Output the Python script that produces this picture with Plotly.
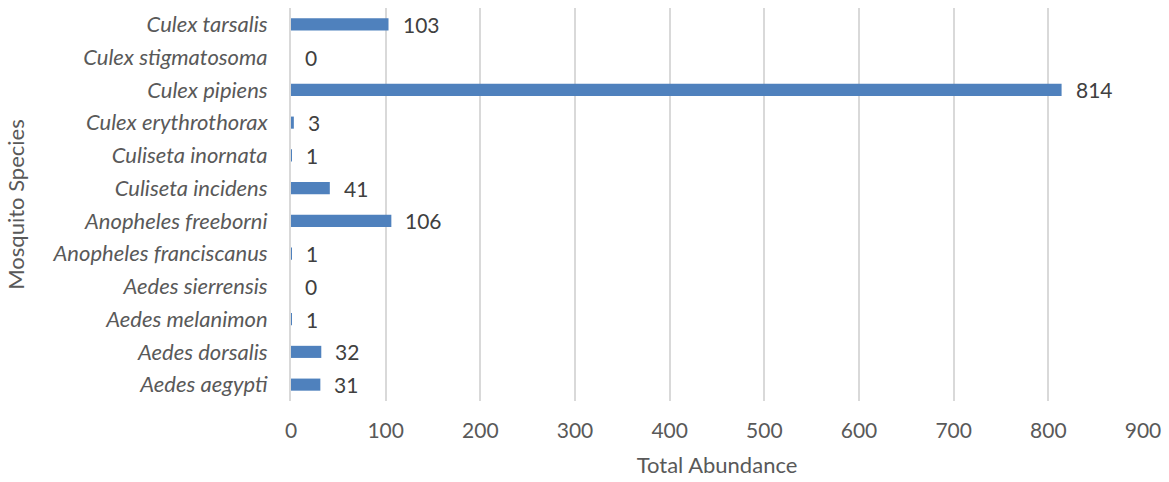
import plotly.graph_objects as go

species = ["Aedes aegypti", "Aedes dorsalis", "Aedes melanimon", "Aedes sierrensis",
           "Anopheles franciscanus", "Anopheles freeborni", "Culiseta incidens",
           "Culiseta inornata", "Culex erythrothorax", "Culex pipiens",
           "Culex stigmatosoma", "Culex tarsalis"]
abundance = [31, 32, 1, 0, 1, 106, 41, 1, 3, 814, 0, 103]
x_ticks = [0, 100, 200, 300, 400, 500, 600, 700, 800, 900]

FONT = "Lato"
TXT = "#595959"

fig = go.Figure(go.Bar(
    x=abundance, y=species, orientation="h",
    marker=dict(color="#4f81bd", line=dict(width=0)),
    width=0.37,
))

for s, v in zip(species, abundance):
    fig.add_annotation(x=v, y=s, text=str(v), showarrow=False, xanchor="left",
                       xshift=12, font=dict(family=FONT, size=21, color="#404040"))

fig.update_layout(
    width=1169, height=482,
    margin=dict(l=291, r=24, t=8, b=79),
    plot_bgcolor="white", paper_bgcolor="white",
    showlegend=False,
    font=dict(family=FONT, color=TXT),
    xaxis=dict(range=[0, 900], tickvals=x_ticks, showgrid=True, gridcolor="#d9d9d9",
               gridwidth=2, zeroline=False, showline=False,
               tickfont=dict(size=21, color=TXT), ticks="outside", ticklen=11,
               tickcolor="rgba(0,0,0,0)",
               title=dict(text="Total Abundance", font=dict(size=22, color=TXT), standoff=16)),
    yaxis=dict(categoryorder="array", categoryarray=species, showgrid=False,
               showline=True, linecolor="#d9d9d9", linewidth=2,
               tickfont=dict(size=22, color=TXT), ticks="outside", ticklen=17,
               tickcolor="rgba(0,0,0,0)", tickprefix="<i>", ticksuffix="</i>",
               title=dict(text="Mosquito Species", font=dict(size=22, color=TXT), standoff=22)),
)

fig.write_html("out.html", config={"displayModeBar": False},
               post_script="document.body.style.margin='0';")
